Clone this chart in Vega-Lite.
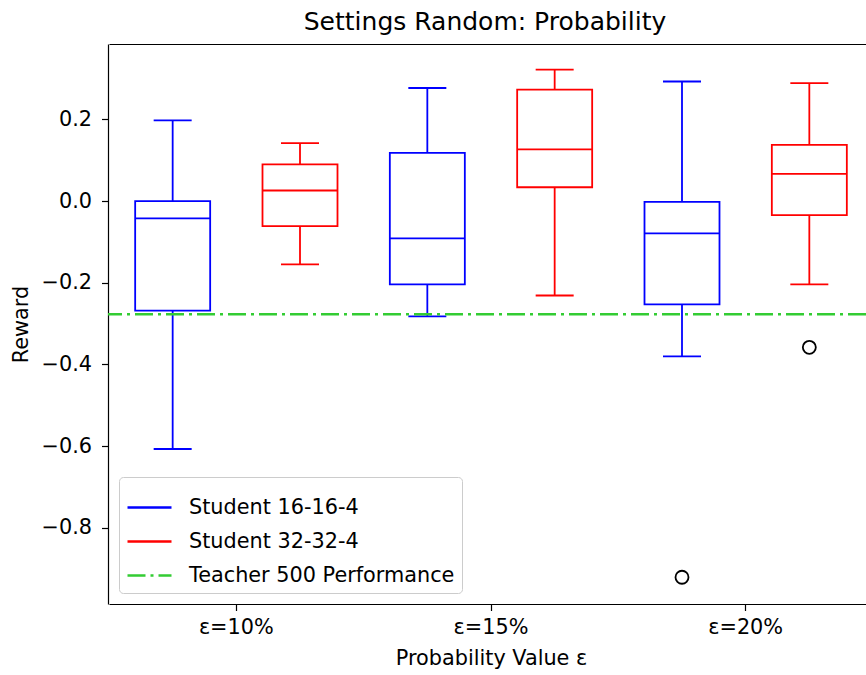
{
  "$schema": "https://vega.github.io/schema/vega-lite/v6.json",
  "autosize": {"type": "none"},
  "padding": {"left": 108, "top": 44, "right": 0, "bottom": 71},
  "width": 758,
  "height": 560,
  "title": {"text": "Settings Random: Probability", "fontSize": 25, "font": "DejaVu Sans", "fontWeight": "normal", "color": "#000000", "offset": 9, "anchor": "middle", "dx": -2},
  "datasets": {
    "boxes": [
      {"group": "ε=10%", "series": "Student 16-16-4", "lower": -0.607, "q1": -0.268, "median": -0.042, "q3": 0.0, "upper": 0.198},
      {"group": "ε=10%", "series": "Student 32-32-4", "lower": -0.155, "q1": -0.061, "median": 0.026, "q3": 0.090, "upper": 0.142},
      {"group": "ε=15%", "series": "Student 16-16-4", "lower": -0.282, "q1": -0.204, "median": -0.091, "q3": 0.118, "upper": 0.277},
      {"group": "ε=15%", "series": "Student 32-32-4", "lower": -0.231, "q1": 0.034, "median": 0.127, "q3": 0.273, "upper": 0.322},
      {"group": "ε=20%", "series": "Student 16-16-4", "lower": -0.380, "q1": -0.253, "median": -0.079, "q3": -0.002, "upper": 0.293},
      {"group": "ε=20%", "series": "Student 32-32-4", "lower": -0.204, "q1": -0.034, "median": 0.067, "q3": 0.138, "upper": 0.289}
    ],
    "outliers": [
      {"group": "ε=20%", "series": "Student 16-16-4", "value": -0.921},
      {"group": "ε=20%", "series": "Student 32-32-4", "value": -0.358}
    ],
    "teacher": [
      {"series": "Teacher 500 Performance", "value": -0.277}
    ]
  },
  "config": {
    "font": "DejaVu Sans",
    "view": {"stroke": null},
    "axis": {"domain": true, "domainColor": "#000000", "domainWidth": 1.2, "grid": false, "tickColor": "#000000", "tickSize": 6.5, "tickWidth": 1.2, "labelFontSize": 20.8, "labelColor": "#000000", "titleFontSize": 20.8, "titleColor": "#000000", "titleFontWeight": "normal", "labelFont": "DejaVu Sans", "titleFont": "DejaVu Sans"},
    "axisX": {"labelAngle": 0, "labelPadding": 7, "titlePadding": 11},
    "axisY": {"labelPadding": 10, "titlePadding": 10},
    "legend": {"orient": "none", "legendX": 11, "legendY": 433, "padding": 7, "strokeColor": "#cccccc", "fillColor": "#ffffff", "cornerRadius": 4, "labelFontSize": 20.8, "labelFont": "DejaVu Sans", "labelColor": "#000000", "labelLimit": 400, "symbolType": "stroke", "symbolSize": 1936, "symbolStrokeWidth": 2.5, "rowPadding": -4.5, "labelOffset": 16, "title": null}
  },
  "resolve": {"axis": {"x": "independent"}},
  "layer": [
    {
      "data": {"name": "boxes"},
      "mark": {"type": "rule", "strokeWidth": 1.8},
      "encoding": {
        "x": {"field": "group", "type": "nominal", "scale": {"domain": ["ε=10%", "ε=15%", "ε=20%"], "range": [1, 765], "paddingInner": 0, "paddingOuter": 0}, "title": "Probability Value ε"},
        "xOffset": {"field": "series", "type": "nominal", "scale": {"domain": ["Student 16-16-4", "Student 32-32-4"], "paddingInner": 0, "paddingOuter": 0}},
        "y": {"field": "lower", "type": "quantitative", "scale": {"domain": [-0.9865, 0.3848], "nice": false, "zero": false}, "axis": {"values": [-0.8, -0.6, -0.4, -0.2, 0, 0.2], "format": ".1f"}, "title": "Reward"},
        "y2": {"field": "q1"},
        "color": {"field": "series", "type": "nominal", "scale": {"domain": ["Student 16-16-4", "Student 32-32-4", "Teacher 500 Performance"], "range": ["#0000ff", "#ff0000", "#33cc33"]}, "title": null},
        "strokeDash": {"field": "series", "type": "nominal", "scale": {"domain": ["Student 16-16-4", "Student 32-32-4", "Teacher 500 Performance"], "range": [[1, 0], [1, 0], [18, 5, 3, 5]]}, "title": null}
      }
    },
    {
      "data": {"name": "boxes"},
      "mark": {"type": "rule", "strokeWidth": 1.8},
      "encoding": {
        "x": {"field": "group", "type": "nominal", "axis": null},
        "xOffset": {"field": "series", "type": "nominal"},
        "y": {"field": "q3", "type": "quantitative", "title": "Reward"},
        "y2": {"field": "upper"},
        "color": {"field": "series", "type": "nominal", "title": null},
        "strokeDash": {"field": "series", "type": "nominal", "title": null}
      }
    },
    {
      "data": {"name": "boxes"},
      "mark": {"type": "bar", "filled": false, "size": 75, "strokeWidth": 1.8},
      "encoding": {
        "x": {"field": "group", "type": "nominal", "axis": null},
        "xOffset": {"field": "series", "type": "nominal"},
        "y": {"field": "q1", "type": "quantitative", "title": "Reward"},
        "y2": {"field": "q3"},
        "color": {"field": "series", "type": "nominal", "title": null}
      }
    },
    {
      "data": {"name": "boxes"},
      "mark": {"type": "tick", "size": 75, "thickness": 1.8, "opacity": 1},
      "encoding": {
        "x": {"field": "group", "type": "nominal", "axis": null},
        "xOffset": {"field": "series", "type": "nominal"},
        "y": {"field": "median", "type": "quantitative", "title": "Reward"},
        "color": {"field": "series", "type": "nominal", "title": null}
      }
    },
    {
      "data": {"name": "boxes"},
      "mark": {"type": "tick", "size": 38, "thickness": 1.8, "opacity": 1},
      "encoding": {
        "x": {"field": "group", "type": "nominal", "axis": null},
        "xOffset": {"field": "series", "type": "nominal"},
        "y": {"field": "upper", "type": "quantitative", "title": "Reward"},
        "color": {"field": "series", "type": "nominal", "title": null}
      }
    },
    {
      "data": {"name": "boxes"},
      "mark": {"type": "tick", "size": 38, "thickness": 1.8, "opacity": 1},
      "encoding": {
        "x": {"field": "group", "type": "nominal", "axis": null},
        "xOffset": {"field": "series", "type": "nominal"},
        "y": {"field": "lower", "type": "quantitative", "title": "Reward"},
        "color": {"field": "series", "type": "nominal", "title": null}
      }
    },
    {
      "data": {"name": "outliers"},
      "mark": {"type": "point", "shape": "circle", "filled": false, "size": 169, "strokeWidth": 1.8, "color": "#000000", "opacity": 1},
      "encoding": {
        "x": {"field": "group", "type": "nominal", "axis": {"orient": "top", "labels": false, "ticks": false, "title": null, "domain": true}},
        "xOffset": {"field": "series", "type": "nominal"},
        "y": {"field": "value", "type": "quantitative", "title": "Reward"}
      }
    },
    {
      "data": {"name": "teacher"},
      "mark": {"type": "rule", "strokeWidth": 2.5},
      "encoding": {
        "y": {"field": "value", "type": "quantitative", "title": "Reward"},
        "color": {"field": "series", "type": "nominal", "title": null},
        "strokeDash": {"field": "series", "type": "nominal", "title": null}
      }
    }
  ]
}
